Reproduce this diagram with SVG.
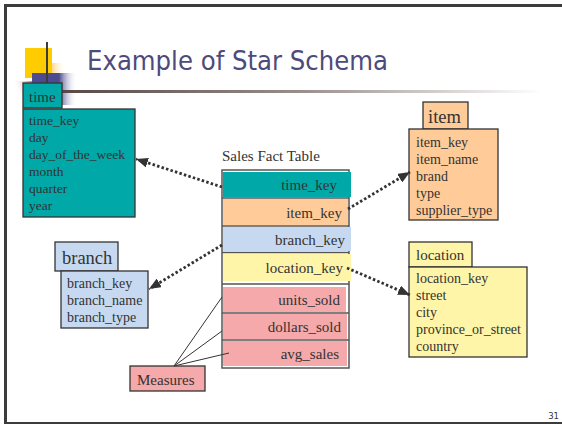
<svg xmlns="http://www.w3.org/2000/svg" width="562" height="424" viewBox="0 0 562 424">
<defs>
<style>
.t{font-family:"Liberation Serif","Times New Roman",serif;fill:#333;}
.b14{font-size:14px;}
.f15{font-size:15px;}
.box{stroke:#333;stroke-width:1.3;}
.dot{stroke:#333;stroke-width:2.8;stroke-dasharray:2.5 2.2;fill:none;}
.ml{stroke:#333;stroke-width:1;fill:none;}
.sep{stroke:#555;stroke-width:1.5;}
</style>
<linearGradient id="hl" x1="0" y1="0" x2="1" y2="0">
<stop offset="0" stop-color="#574845"/><stop offset="0.5" stop-color="#9a8f8b"/><stop offset="1" stop-color="#ffffff"/>
</linearGradient>
<linearGradient id="bl" x1="0" y1="0" x2="1" y2="0">
<stop offset="0" stop-color="#4d4b8f"/><stop offset="0.6" stop-color="#4d4b8f"/><stop offset="1" stop-color="#ffffff" stop-opacity="0"/>
</linearGradient>
<radialGradient id="rd" cx="1" cy="0" r="1">
<stop offset="0" stop-color="#e06a5c"/><stop offset="1" stop-color="#ffffff" stop-opacity="0"/>
</radialGradient>
<linearGradient id="pc" x1="0" y1="0" x2="1" y2="0">
<stop offset="0" stop-color="#ffd890"/><stop offset="1" stop-color="#ffffff" stop-opacity="0"/>
</linearGradient>
<marker id="ah" viewBox="0 0 12 10" refX="12" refY="5" markerWidth="12" markerHeight="10" markerUnits="userSpaceOnUse" orient="auto">
<path d="M0,0 L12,5 L0,10 z" fill="#333"/>
</marker>
</defs>
<rect width="562" height="424" fill="#ffffff"/>
<!-- frame -->
<g id="frame" fill="#3c3c3c">
<rect x="4" y="4" width="558" height="3"/>
<rect x="4" y="4" width="3" height="420"/>
<rect x="4" y="422" width="558" height="2"/>
</g>
<!-- logo -->
<g id="logo">
<rect x="52" y="63" width="14" height="16" fill="url(#pc)"/>
<rect x="13" y="81" width="20" height="22" fill="url(#rd)"/>
<rect x="25" y="48" width="27" height="30" fill="#ffcc00"/>
<rect x="32" y="73" width="45" height="32" fill="url(#bl)"/>
<line x1="47" y1="42" x2="47" y2="84" stroke="#3c3c3c" stroke-width="2"/>
<rect x="62" y="90" width="480" height="3" fill="url(#hl)"/>
</g>
<text id="title" x="87" y="70" font-family="DejaVu Sans, Verdana, sans-serif" font-size="27" fill="#4d4a7c" textLength="301" lengthAdjust="spacingAndGlyphs">Example of Star Schema</text>
<!-- time -->
<g id="time">
<rect class="box" x="23" y="83" width="39" height="25" fill="#00a8a8"/>
<rect class="box" x="23" y="109" width="112" height="108" fill="#00a8a8"/>
<text class="t f15" x="29" y="102">time</text>
<text class="t" font-size="13.5" x="29" y="125">time_key</text>
<text class="t" font-size="13.5" x="29" y="142">day</text>
<text class="t" font-size="13.5" x="29" y="159">day_of_the_week</text>
<text class="t" font-size="13.5" x="29" y="176">month</text>
<text class="t" font-size="13.5" x="29" y="193">quarter</text>
<text class="t" font-size="13.5" x="29" y="210">year</text>
</g>
<!-- item -->
<g id="item">
<rect class="box" x="423" y="102" width="45" height="27" fill="#ffcc99"/>
<rect class="box" x="409" y="129" width="89" height="91" fill="#ffcc99"/>
<text class="t" font-size="18.5" x="428" y="123">item</text>
<text class="t b14" x="416" y="147">item_key</text>
<text class="t b14" x="416" y="164">item_name</text>
<text class="t b14" x="416" y="181">brand</text>
<text class="t b14" x="416" y="198">type</text>
<text class="t b14" x="416" y="215">supplier_type</text>
</g>
<!-- location -->
<g id="location">
<rect class="box" x="409" y="242" width="63" height="25" fill="#fff5a8"/>
<rect class="box" x="409" y="267" width="118" height="90" fill="#fff5a8"/>
<text class="t f15" x="416" y="260">location</text>
<text class="t b14" x="416" y="283">location_key</text>
<text class="t b14" x="416" y="300">street</text>
<text class="t b14" x="416" y="317">city</text>
<text class="t b14" x="416" y="334">province_or_street</text>
<text class="t b14" x="416" y="351">country</text>
</g>
<!-- branch -->
<g id="branch">
<rect class="box" x="55" y="242" width="63" height="29" fill="#c6d9f0"/>
<rect class="box" x="61" y="271" width="87" height="57" fill="#c6d9f0"/>
<text class="t" font-size="18.5" x="62" y="264">branch</text>
<text class="t b14" x="67" y="288">branch_key</text>
<text class="t b14" x="67" y="305">branch_name</text>
<text class="t b14" x="67" y="322">branch_type</text>
</g>
<!-- fact table -->
<g id="fact">
<text class="t f15" x="222" y="161">Sales Fact Table</text>
<rect x="222" y="170" width="127" height="198" fill="#ffffff" stroke="#555" stroke-width="1.5"/>
<rect x="223" y="172" width="128" height="25" fill="#00a8a8"/>
<rect x="223" y="199" width="125" height="26" fill="#ffcc99"/>
<rect x="223" y="227" width="128" height="24" fill="#c6d9f0"/>
<rect x="223" y="254" width="128" height="27" fill="#fff5a8"/>
<rect x="223" y="287" width="123" height="25" fill="#f5a9aa"/>
<rect x="223" y="314" width="124" height="25" fill="#f5a9aa"/>
<rect x="223" y="341" width="124" height="25" fill="#f5a9aa"/>
<line class="sep" x1="222" y1="198" x2="349" y2="198"/>
<line class="sep" x1="222" y1="226" x2="349" y2="226"/>
<line class="sep" x1="222" y1="252.5" x2="349" y2="252.5"/>
<line class="sep" x1="222" y1="284" x2="349" y2="284"/>
<line class="sep" x1="222" y1="313" x2="349" y2="313"/>
<line class="sep" x1="222" y1="340" x2="349" y2="340"/>
<text class="t f15" x="337" y="190" text-anchor="end">time_key</text>
<text class="t f15" x="342" y="218" text-anchor="end">item_key</text>
<text class="t f15" x="345" y="245" text-anchor="end">branch_key</text>
<text class="t f15" x="343" y="273" text-anchor="end">location_key</text>
<text class="t f15" x="340" y="305" text-anchor="end">units_sold</text>
<text class="t f15" x="341" y="332" text-anchor="end">dollars_sold</text>
<text class="t f15" x="339" y="359" text-anchor="end">avg_sales</text>
</g>
<!-- measures -->
<g id="measures">
<rect class="box" x="130" y="366" width="75" height="25" fill="#f5a9aa"/>
<text class="t f15" x="137" y="385">Measures</text>
</g>
<!-- connectors -->
<g id="connectors">
<line class="dot" x1="222" y1="187" x2="136" y2="159" marker-end="url(#ah)"/>
<line class="dot" x1="348" y1="209" x2="410" y2="172" marker-end="url(#ah)"/>
<line class="dot" x1="222" y1="245" x2="149" y2="289" marker-end="url(#ah)"/>
<line class="dot" x1="347" y1="268" x2="410" y2="295" marker-end="url(#ah)"/>
<line class="ml" x1="174" y1="366" x2="222" y2="297"/>
<line class="ml" x1="174" y1="366" x2="222" y2="331"/>
<line class="ml" x1="174" y1="366" x2="229" y2="353"/>
</g>
<text id="page" x="559" y="419" text-anchor="end" font-family="DejaVu Sans, Verdana, sans-serif" font-size="8.5" fill="#333">31</text>
</svg>
